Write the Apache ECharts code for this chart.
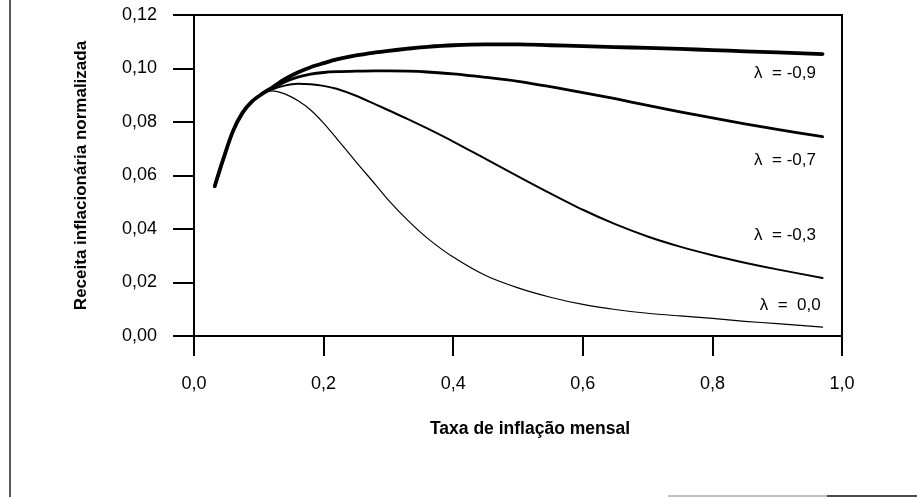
<!DOCTYPE html>
<html>
<head>
<meta charset="utf-8">
<script src="https://cdn.jsdelivr.net/npm/echarts@6/dist/echarts.min.js"></script>
<style>
html,body{margin:0;padding:0;background:#fff;}
#chart{width:917px;height:497px;}
</style>
</head>
<body>
<div id="chart"></div>
<script>
// Inflation rate (x) sample points shared by all curves
var xs = [0.032, 0.045, 0.06, 0.075, 0.09, 0.105, 0.12, 0.14, 0.16, 0.18, 0.20, 0.22, 0.25, 0.28, 0.30, 0.33, 0.36, 0.40, 0.45, 0.50, 0.55, 0.60, 0.65, 0.70, 0.75, 0.80, 0.85, 0.90, 0.97];

var lam09 = [0.0560, 0.0660, 0.0765, 0.0835, 0.0878, 0.0905, 0.0928, 0.0960, 0.0985, 0.1005, 0.1020, 0.1034, 0.1049, 0.1060, 0.1066, 0.1074, 0.1081, 0.1087, 0.1090, 0.1090, 0.1087, 0.1084, 0.1080, 0.1077, 0.1073, 0.1069, 0.1064, 0.1060, 0.1054];
var lam07 = [0.0560, 0.0660, 0.0765, 0.0835, 0.0878, 0.0905, 0.0924, 0.0950, 0.0968, 0.0979, 0.0985, 0.0988, 0.0990, 0.0991, 0.0991, 0.0990, 0.0987, 0.0980, 0.0967, 0.0952, 0.0932, 0.0910, 0.0887, 0.0862, 0.0838, 0.0815, 0.0793, 0.0772, 0.0745];
var lam03 = [0.0560, 0.0660, 0.0765, 0.0835, 0.0878, 0.0905, 0.0921, 0.0936, 0.0943, 0.0941, 0.0935, 0.0924, 0.0898, 0.0866, 0.0844, 0.0811, 0.0776, 0.0727, 0.0662, 0.0597, 0.0533, 0.0472, 0.0418, 0.0372, 0.0334, 0.0302, 0.0274, 0.0249, 0.0217];
var lam00 = [0.0560, 0.0660, 0.0765, 0.0835, 0.0878, 0.0905, 0.0916, 0.0905, 0.0880, 0.0845, 0.0796, 0.0739, 0.0651, 0.0566, 0.0508, 0.0432, 0.0366, 0.0295, 0.0226, 0.0180, 0.0145, 0.0118, 0.0099, 0.0085, 0.0075, 0.0066, 0.0055, 0.0046, 0.0033];

var seriesNames = ['λ = -0,9', 'λ = -0,7', 'λ = -0,3', 'λ = 0,0'];
var labelTexts = ['λ  = -0,9', 'λ  = -0,7', 'λ  = -0,3', 'λ  =  0,0'];
var labelX = [0.912, 0.912, 0.912, 0.920];
var labelY = [0.0983, 0.0658, 0.0378, 0.0116];

var xTickLabels = ['0,0', '0,2', '0,4', '0,6', '0,8', '1,0'];
var yTickLabels = ['0,00', '0,02', '0,04', '0,06', '0,08', '0,10', '0,12'];

var FONT = '"Liberation Sans", Arial, Helvetica, sans-serif';
var values = [lam09, lam07, lam03, lam00];
var widths = [3.8, 2.8, 2.0, 1.2];

function pairs(ys) {
  return xs.map(function (x, i) { return [x, ys[i]]; });
}

var series = values.map(function (ys, k) {
  return {
    name: seriesNames[k],
    type: 'line',
    data: pairs(ys),
    smooth: 0.3,
    showSymbol: false,
    symbol: 'none',
    lineStyle: { color: '#000', width: widths[k], cap: 'round', join: 'round' },
    z: 5,
    markPoint: {
      silent: true,
      symbol: 'circle',
      symbolSize: 0,
      animation: false,
      label: {
        show: true,
        position: 'inside',
        formatter: labelTexts[k],
        color: '#000',
        fontSize: 17,
        fontFamily: FONT
      },
      data: [{ coord: [labelX[k], labelY[k]] }]
    }
  };
});

var chart = echarts.init(document.getElementById('chart'), null, { renderer: 'canvas' });
chart.setOption({
  animation: false,
  backgroundColor: '#fff',
  grid: { left: 194, right: 75, top: 15, bottom: 161, containLabel: false },
  xAxis: [{
    type: 'value', min: 0, max: 1, interval: 0.2,
    name: 'Taxa de inflação mensal',
    nameLocation: 'middle', nameGap: 84,
    nameTextStyle: { color: '#000', fontSize: 17.5, fontWeight: 'bold', fontFamily: FONT, padding: [0, 0, 0, 24] },
    axisLine: { show: true, onZero: false, lineStyle: { color: '#000', width: 2 } },
    axisTick: { show: true, length: 20, lineStyle: { color: '#000', width: 2 } },
    axisLabel: {
      margin: 39, color: '#000', fontSize: 18, fontFamily: FONT,
      formatter: function (v, i) { return xTickLabels[Math.round(v / 0.2)]; }
    },
    splitLine: { show: false }
  }, {
    type: 'value', min: 0, max: 1, position: 'top',
    axisLine: { show: true, onZero: false, lineStyle: { color: '#000', width: 2 } },
    axisTick: { show: false }, axisLabel: { show: false }, splitLine: { show: false }
  }],
  yAxis: [{
    type: 'value', min: 0, max: 0.12, interval: 0.02,
    name: 'Receita inflacionária normalizada',
    nameLocation: 'middle', nameGap: 104,
    nameTextStyle: { color: '#000', fontSize: 17, fontWeight: 'bold', fontFamily: FONT },
    axisLine: { show: true, onZero: false, lineStyle: { color: '#000', width: 2 } },
    axisTick: { show: true, length: 21, lineStyle: { color: '#000', width: 2 } },
    axisLabel: {
      margin: 37, color: '#000', fontSize: 18, fontFamily: FONT,
      formatter: function (v) { return yTickLabels[Math.round(v / 0.02)]; }
    },
    splitLine: { show: false }
  }, {
    type: 'value', min: 0, max: 0.12, position: 'right',
    axisLine: { show: true, onZero: false, lineStyle: { color: '#000', width: 2 } },
    axisTick: { show: false }, axisLabel: { show: false }, splitLine: { show: false }
  }],
  graphic: [
    { type: 'line', shape: { x1: 10, y1: 0, x2: 10, y2: 497 }, style: { stroke: '#222', lineWidth: 1.5 } },
    { type: 'line', shape: { x1: 668, y1: 496, x2: 827, y2: 496 }, style: { stroke: '#aaa', lineWidth: 1.5 } },
    { type: 'line', shape: { x1: 827, y1: 496, x2: 917, y2: 496 }, style: { stroke: '#111', lineWidth: 1.5 } }
  ],
  series: series
});
</script>
</body>
</html>
